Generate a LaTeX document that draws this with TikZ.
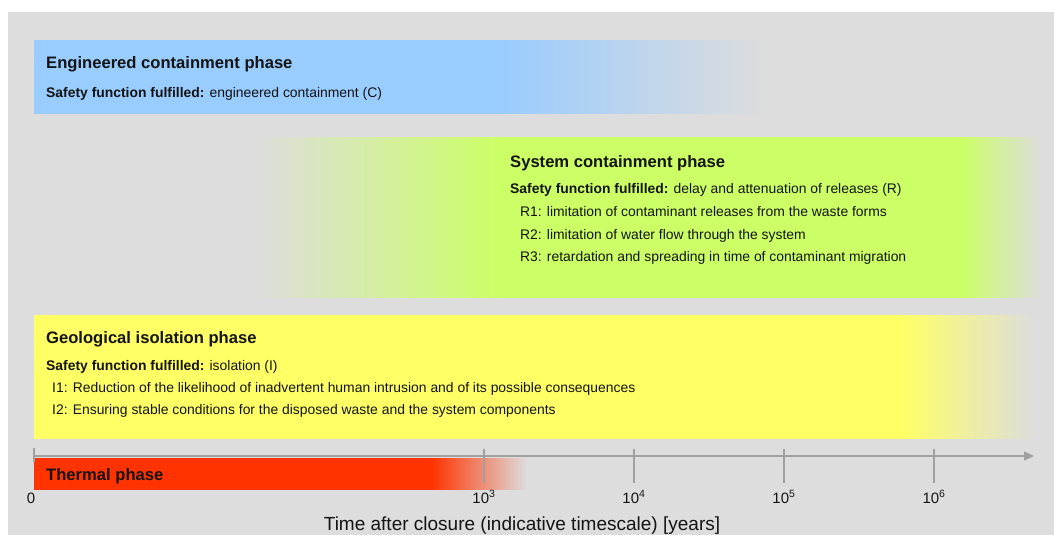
\documentclass[tikz,border=0pt]{standalone}
\usepackage{fontspec}
\setmainfont{Liberation Sans}
\usetikzlibrary{arrows.meta,positioning}
\definecolor{paper}{RGB}{221,221,221}
\definecolor{ecblue}{RGB}{153,204,255}
\definecolor{scgreen}{RGB}{204,255,102}
\definecolor{giyellow}{RGB}{255,255,102}
\definecolor{thred}{RGB}{255,51,0}
\definecolor{axisgray}{RGB}{160,160,160}
\definecolor{ink}{RGB}{20,20,20}
% band shadings: the 25bp--75bp part spans the band
\pgfdeclarehorizontalshading{ecband}{100bp}{color(0bp)=(ecblue); color(56.6bp)=(ecblue); color(75bp)=(paper); color(100bp)=(paper)}
\pgfdeclarehorizontalshading{scband}{100bp}{color(0bp)=(paper); color(25bp)=(paper); color(40.6bp)=(scgreen); color(69.9bp)=(scgreen); color(75bp)=(paper); color(100bp)=(paper)}
\pgfdeclarehorizontalshading{giband}{100bp}{color(0bp)=(giyellow); color(68.3bp)=(giyellow); color(75bp)=(paper); color(100bp)=(paper)}
\pgfdeclarehorizontalshading{thband}{100bp}{color(0bp)=(thred); color(65.3bp)=(thred); color(75bp)=(paper); color(100bp)=(paper)}
\tikzset{
  every picture/.style={x=1pt, y=-1pt, color=ink},
  phasetitle/.style={anchor=base west, inner sep=0pt, font=\fontsize{16.6}{19}\selectfont\bfseries},
  phasetext/.style={anchor=base west, inner sep=0pt, font=\fontsize{13.9}{16}\selectfont},
  ticklbl/.style={anchor=base, inner sep=0pt, font=\fontsize{15}{17}\selectfont},
  axistitle/.style={anchor=base, inner sep=0pt, font=\fontsize{19}{22}\selectfont},
  axisline/.style={draw=axisgray, line width=1.5pt},
  timearrow/.style={axisline, -{Triangle[length=10pt,width=9pt]}},
}
\newcommand{\sfful}{\textbf{Safety function fulfilled:}}

\begin{document}
\begin{tikzpicture}
  \useasboundingbox (0,0) rectangle (1054,535);
  \fill[white] (0,0) rectangle (1054,535);
  \fill[paper] (8,12) rectangle (1054,535);
  % engineered containment: fades out towards the right
  \shade[shading=ecband] (34,41) rectangle (768,113);
  \node[phasetitle] (ectitle) at (46,69) {Engineered containment phase};
  \node[phasetext] (ecsf) at (46,97) {\sfful{} engineered containment (C)};
  % system containment: fades in and out
  \shade[shading=scband] (255,137) rectangle (1042,297);
  \node[phasetitle] (sctitle) at (510,167) {System containment phase};
  \node[phasetext] (scsf) at (510,193) {\sfful{} delay and attenuation of releases (R)};
  \node[phasetext] (scr1) at (520,216) {R1: limitation of contaminant releases from the waste forms};
  \node[phasetext] (scr2) at (520,239) {R2: limitation of water flow through the system};
  \node[phasetext] (scr3) at (520,261) {R3: retardation and spreading in time of contaminant migration};
  % geological isolation
  \shade[shading=giband] (34,315) rectangle (1035,438);
  \node[phasetitle] (gititle) at (46,343) {Geological isolation phase};
  \node[phasetext] (gisf) at (46,370) {\sfful{} isolation (I)};
  \node[phasetext] (gii1) at (52,392) {I1: Reduction of the likelihood of inadvertent human intrusion and of its possible consequences};
  \node[phasetext] (gii2) at (52,414) {I2: Ensuring stable conditions for the disposed waste and the system components};
  % thermal phase
  \shade[shading=thband] (34,458) rectangle (527,489);
  \node[phasetitle] (thtitle) at (46,480) {Thermal phase};
  % time axis
  \coordinate (t0) at (34,456);
  \coordinate (tend) at (1034,456);
  \draw[timearrow] (t0) -- (tend);
  \draw[axisline] (34,448) -- (34,462);
  \foreach \xt/\ex in {484/3, 634/4, 784/5, 934/6} {
    \draw[axisline] (\xt,449) -- (\xt,483);
    \node[ticklbl] (tick\ex) at (\xt,503) {10\textsuperscript{\ex}};
  }
  \node[ticklbl] (tickzero) at (31,503) {0};
  \node[axistitle] (axtitle) at (522,530) {Time after closure (indicative timescale) [years]};
\end{tikzpicture}
\end{document}
